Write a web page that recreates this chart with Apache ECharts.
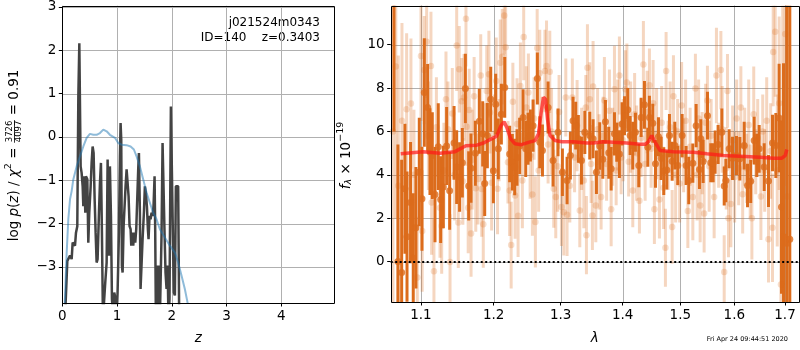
<!DOCTYPE html>
<html>
<head>
<meta charset="utf-8">
<script src="https://cdn.jsdelivr.net/npm/echarts@6.0.0/dist/echarts.min.js"></script>
<style>
  html, body { margin: 0; padding: 0; background: #fff; }
  #chart { width: 800px; height: 350px; }
</style>
</head>
<body>
<div id="chart"></div>
<script>
// ---- left panel: log p(z) and prior ----
const pzZ = [0.049,0.092,0.110,0.141,0.171,0.189,0.214,0.232,0.250,0.274,
  0.293,0.311,0.323,0.335,0.353,0.372,0.384,0.402,0.420,0.432,
  0.457,0.475,0.493,0.518,0.536,0.554,0.572,0.591,0.609,0.627,
  0.645,0.670,0.688,0.706,0.724,0.743,0.761,0.785,0.810,0.828,
  0.852,0.870,0.889,0.907,0.931,0.949,0.974,0.992,1.010,1.035,
  1.053,1.065,1.077,1.089,1.102,1.120,1.138,1.156,1.175,1.193,
  1.211,1.229,1.248,1.260,1.278,1.296,1.314,1.333,1.351,1.369,
  1.387,1.400,1.418,1.430,1.448,1.467,1.491,1.509,1.527,1.546,
  1.564,1.576,1.594,1.613,1.631,1.649,1.667,1.686,1.698,1.710,
  1.728,1.746,1.765,1.783,1.813,1.832,1.850,1.868,1.886,1.905,
  1.923,1.941,1.959,1.984,2.002,2.020,2.038,2.057,2.075,2.099,
  2.117,2.136];
const pzLog = [-4.2,-2.86,-2.90,-2.74,-2.82,-2.44,-2.40,-2.51,-2.21,-2.06,
  0.93,2.16,2.12,-0.68,-0.83,-1.14,-1.60,-0.91,-1.75,-0.91,
  -0.98,-2.44,-1.75,-1.14,-0.60,-0.22,-0.37,-1.44,-2.21,-2.90,
  -2.82,-1.75,-1.06,-0.60,-2.21,-4.2,-4.2,-3.36,-2.90,-0.52,
  -2.74,-0.68,-1.82,-3.74,-4.2,-3.59,-3.74,-4.2,-3.59,-2.21,
  -0.45,0.32,-0.06,-2.97,-3.13,-2.06,-1.60,-1.14,-0.75,-1.06,
  -1.37,-2.06,-2.13,-2.51,-2.21,-2.51,-2.21,-2.44,-2.13,-1.44,
  -0.75,-0.37,-1.75,-3.51,-3.51,-2.36,-1.75,-1.14,-1.29,-1.60,
  -2.13,-2.36,-1.82,-1.90,-1.75,-1.82,-1.60,-0.91,-2.21,-4.2,
  -2.97,-4.2,-2.97,-4.2,-2.28,-0.14,-0.14,-2.21,-3.13,-3.51,
  -2.97,-4.2,-3.74,0.70,0.70,-2.21,-3.59,-3.66,-1.14,-1.17,
  -1.14,-4.2];
const priorZ = [0.040,0.080,0.110,0.141,0.171,0.201,0.262,0.323,0.384,0.445,
  0.505,0.566,0.627,0.688,0.749,0.785,0.810,0.870,0.962,1.022,
  1.083,1.175,1.248,1.308,1.357,1.418,1.479,1.540,1.600,1.661,
  1.722,1.783,1.874,1.965,2.057,2.117,2.178,2.239,2.288,2.330];
const priorLog = [-4.0,-2.67,-1.90,-1.44,-1.25,-0.98,-0.68,-0.45,-0.22,-0.02,
  0.07,0.05,0.05,0.09,0.17,0.21,0.13,0.05,-0.02,-0.14,
  -0.18,-0.19,-0.22,-0.29,-0.45,-0.68,-0.98,-1.29,-1.52,-1.75,
  -1.90,-2.13,-2.32,-2.51,-2.67,-2.90,-3.20,-3.51,-3.82,-4.2];
const zTicks = [0, 1, 2, 3, 4];
const logTicks = [-3, -2, -1, 0, 1, 2, 3];
const zMin = 0, zMax = 4.97, logMin = -3.834, logMax = 3.028;

// ---- right panel: spectrum ----
const darkLam = [1.0651,1.0701,1.0749,1.0791,1.0818,1.0864,1.0899,1.0934,1.0978,1.1013,
  1.1044,1.1088,1.1119,1.1150,1.1186,1.1230,1.1262,1.1298,1.1343,1.1384,
  1.1444,1.1480,1.1520,1.1558,1.1600,1.1646,1.1678,1.1739,1.1795,1.1843,
  1.1871,1.1909,1.1957,1.1995,1.2028,1.2066,1.2110,1.2159,1.2231,1.2270,
  1.2305,1.2339,1.2378,1.2429,1.2468,1.2503,1.2538,1.2578,1.2643,1.2679,
  1.2720,1.2806,1.2882,1.2959,1.3027,1.3100,1.3152,1.3194,1.3236,1.3278,
  1.3327,1.3381,1.3460,1.3514,1.3568,1.3622,1.3672,1.3715,1.3770,1.3809,
  1.3864,1.3902,1.3946,1.3991,1.4031,1.4086,1.4126,1.4171,1.4216,1.4273,
  1.4313,1.4370,1.4428,1.4456,1.4514,1.4561,1.4613,1.4660,1.4706,1.4759,
  1.4806,1.4854,1.4901,1.4954,1.5032,1.5104,1.5152,1.5226,1.5286,1.5347,
  1.5372,1.5415,1.5495,1.5556,1.5600,1.5637,1.5693,1.5763,1.5808,1.5839,
  1.5902,1.5966,1.6042,1.6106,1.6190,1.6255,1.6317,1.6385,1.6434,1.6483,
  1.6582,1.6668,1.6748,1.6815,1.6881,1.6929,1.6970,1.7037,1.7098];
const darkFlux = [12.0,0.0,-0.5,3.36,1.15,2.72,0.15,1.56,4.13,2.9,
  7.8,7.11,5.07,4.89,3.09,5.30,2.86,3.44,5.33,3.27,
  5.47,4.36,3.9,4.56,7.98,3.49,4.31,5.0,6.47,5.89,
  3.60,5.81,7.49,4.19,7.26,5.20,6.80,8.03,4.96,4.58,
  4.36,4.80,5.33,6.65,5.20,5.66,5.81,6.27,8.44,5.50,
  5.12,7.11,4.66,5.96,4.12,3.74,4.89,6.50,6.27,5.66,
  4.66,5.96,5.81,5.66,4.12,5.33,4.72,6.45,5.02,4.28,
  5.89,5.50,4.96,6.35,6.73,7.00,5.81,5.35,5.96,4.43,
  6.65,7.23,5.27,6.65,6.38,4.51,5.76,4.76,4.17,4.22,
  5.81,4.63,5.35,4.43,5.81,4.43,3.74,4.54,6.27,4.25,
  5.66,4.62,6.73,4.56,4.56,5.05,5.40,5.96,3.49,3.74,
  5.20,4.76,4.89,4.74,5.35,3.51,3.70,5.58,4.90,5.20,
  4.36,3.72,5.47,5.35,6.62,2.52,1.15,0.84,1.03];
const darkErr = [6.0,5.4,5.2,3.0,3.0,2.8,3.0,2.8,2.5,2.4,
  2.5,2.0,2.0,2.0,2.2,2.0,2.0,1.9,1.8,1.8,
  1.7,1.7,1.6,1.6,1.6,1.6,1.6,1.5,1.5,1.5,
  1.5,1.5,1.5,1.5,1.4,1.4,1.4,1.4,1.3,1.3,
  1.3,1.3,1.3,1.3,1.3,1.2,1.2,1.2,1.2,1.2,
  1.2,1.2,1.2,1.1,1.1,1.1,1.1,1.1,1.1,1.1,
  1.1,1.0,1.1,0.9,1.0,1.1,0.9,1.0,1.2,1.0,
  1.0,0.9,1.1,1.0,0.9,1.0,0.9,1.1,0.9,1.0,
  0.9,1.1,0.9,1.0,0.9,1.1,0.9,1.0,1.1,0.9,
  1.0,0.9,1.1,0.9,1.0,0.9,1.1,0.9,1.0,0.9,
  0.9,1.0,1.1,0.9,0.9,1.0,0.9,1.1,0.9,1.0,
  0.9,1.0,0.9,1.0,1.1,1.0,1.0,1.1,1.0,1.1,
  1.1,1.2,1.3,1.5,2.5,4.0,8.0,15,15];

const lightLam = [1.0638,1.0674,1.0706,1.0753,1.0813,1.0869,1.0908,1.0952,1.1000,1.1016,
  1.1043,1.1075,1.1098,1.1132,1.1141,1.1172,1.1205,1.1253,1.1276,1.1306,
  1.1334,1.1361,1.1389,1.1420,1.1451,1.1480,1.1502,1.1515,1.1549,1.1565,
  1.1581,1.1608,1.1617,1.1639,1.1653,1.1679,1.1694,1.1722,1.1745,1.1776,
  1.1815,1.1829,1.1851,1.1874,1.1900,1.1931,1.1947,1.1970,1.2010,1.2036,
  1.2055,1.2077,1.2094,1.2123,1.2152,1.2172,1.2206,1.2230,1.2253,1.2278,
  1.2310,1.2339,1.2355,1.2389,1.2418,1.2438,1.2478,1.2508,1.2533,1.2568,
  1.2593,1.2613,1.2640,1.2662,1.2679,1.2717,1.2758,1.2782,1.2806,1.2832,
  1.2859,1.2893,1.2924,1.2952,1.2975,1.3012,1.3049,1.3080,1.3100,1.3143,
  1.3183,1.3218,1.3258,1.3301,1.3330,1.3365,1.3397,1.3407,1.3423,1.3461,
  1.3482,1.3503,1.3514,1.3558,1.3587,1.3612,1.3644,1.3677,1.3698,1.3734,
  1.3781,1.3809,1.3834,1.3864,1.3892,1.3917,1.3946,1.3975,1.4008,1.4047,
  1.4071,1.4101,1.4135,1.4171,1.4202,1.4236,1.4284,1.4313,1.4352,1.4382,
  1.4416,1.4456,1.4485,1.4520,1.4542,1.4580,1.4630,1.4669,1.4703,1.4735,
  1.4747,1.4783,1.4818,1.4854,1.4877,1.4916,1.4952,1.4988,1.5023,1.5059,
  1.5095,1.5135,1.5177,1.5226,1.5273,1.5304,1.5332,1.5360,1.5397,1.5433,
  1.5461,1.5494,1.5526,1.5563,1.5619,1.5662,1.5703,1.5745,1.5770,1.5808,
  1.5846,1.5870,1.5889,1.5934,1.5968,1.6006,1.6045,1.6084,1.6126,1.6161,
  1.6200,1.6239,1.6278,1.6307,1.6340,1.6376,1.6415,1.6454,1.6517,1.6553,
  1.6592,1.6632,1.6668,1.6711,1.6748,1.6762,1.6802,1.6843,1.6882,1.6917,
  1.6954,1.7004,1.7045];
const lightFlux = [6.0,9.0,3.5,6.5,7.03,7.29,4.0,-0.73,9.48,1.41,
  8.83,10.14,5.8,9.02,2.72,-0.45,6.2,2.48,1.64,4.2,
  7.49,6.1,-0.02,6.83,4.0,9.97,1.80,8.87,7.39,3.7,
  7.57,11.2,6.22,2.48,6.99,1.3,4.7,7.63,3.38,3.81,
  8.58,3.35,1.72,5.5,7.87,8.64,6.88,3.63,5.9,8.33,
  3.36,5.6,9.17,9.45,11.35,9.89,4.58,3.28,0.76,7.37,
  3.05,6.35,2.11,8.1,3.74,10.36,7.11,7.8,4.9,3.09,
  6.6,1.83,9.85,4.2,8.69,5.9,8.79,9.02,5.4,8.75,
  6.0,3.36,2.98,4.4,6.9,2.52,2.28,7.57,2.16,3.5,
  7.57,4.8,6.27,2.36,5.2,3.74,7.11,1.22,8.94,7.49,
  4.5,2.13,8.07,2.59,6.1,4.6,2.98,5.8,7.43,4.5,
  6.96,2.41,5.3,7.95,4.2,6.3,8.58,4.8,5.6,7.95,
  8.26,4.6,6.2,3.28,6.8,5.0,2.8,5.7,9.09,4.5,
  6.9,8.13,5.2,7.3,2.41,5.9,2.86,6.4,3.4,0.64,
  8.79,4.9,6.2,1.6,7.62,4.0,6.0,3.6,7.2,4.9,
  6.5,2.33,5.3,2.98,7.98,4.0,6.6,2.59,5.0,2.22,
  6.4,7.43,4.4,5.8,2.98,8.58,4.9,8.83,6.1,-0.48,
  4.3,7.87,2.0,2.66,5.6,3.9,6.6,4.3,7.11,3.1,
  5.3,4.3,6.3,3.7,2.0,6.8,4.6,5.7,3.0,6.0,
  4.2,6.5,1.03,5.1,1.56,9.66,10.6,4.2,7.3,-1.06,
  12.5,10.5,3.0];
const lightErr = [9,7,6,4.5,3.5,3,3,2.8,3,2.8,
  2.5,2.6,2.5,2.5,2.4,2.4,2.3,2.3,2.2,2.2,
  2.2,2.2,2.2,2.1,2.1,2.1,2.1,2.0,2.0,2.0,
  2.0,2.2,1.8,2.1,1.9,2.0,2.3,1.8,2.0,2.1,
  1.9,2.2,2.0,1.8,2.1,2.0,1.9,2.2,1.8,2.0,
  2.1,1.9,2.0,2.2,1.8,2.0,1.9,2.1,2.0,1.8,
  2.0,2.1,1.9,2.0,2.2,2.0,1.9,1.8,2.0,1.9,
  1.9,2.1,1.8,1.9,2.0,1.7,1.9,2.1,1.8,1.9,
  2.0,1.8,1.9,2.1,1.7,1.8,2.0,1.8,1.9,1.7,
  1.8,1.6,2.1,1.7,1.9,2.2,1.5,1.8,2.0,1.7,
  1.8,1.6,2.1,1.7,1.9,2.2,1.5,1.8,2.0,1.7,
  1.9,1.7,1.8,2.0,1.6,2.1,1.8,1.7,1.9,1.8,
  1.8,1.6,2.1,1.7,1.9,2.2,1.5,1.8,2.0,1.7,
  1.9,1.7,1.8,2.0,1.6,2.1,1.8,1.7,1.9,1.8,
  1.8,1.6,2.1,1.7,1.9,2.2,1.5,1.8,2.0,1.7,
  1.9,1.7,1.8,2.0,1.6,2.1,1.8,1.7,1.9,1.8,
  1.8,1.6,2.1,1.7,1.9,2.2,1.5,1.8,2.0,1.7,
  1.9,1.7,1.8,2.0,1.6,2.1,1.8,1.7,1.9,1.8,
  1.8,1.6,2.1,1.7,1.9,2.2,1.5,1.8,2.0,1.7,
  1.9,2.0,2.0,2.2,2.5,2.5,3,3.5,4,5,
  6,7,9];

const modelLam = [1.0737,1.103,1.1253,1.1457,1.1607,1.1758,1.1853,1.1967,1.2041,1.2105,
  1.2149,1.2189,1.2246,1.2310,1.2408,1.2508,1.2609,1.2660,1.2700,1.2735,
  1.2766,1.2797,1.2836,1.2913,1.3017,1.3199,1.3411,1.3519,1.3683,1.3846,
  1.4071,1.4296,1.4382,1.4439,1.4497,1.4556,1.4642,1.4877,1.5237,1.5484,
  1.5794,1.6113,1.6503,1.6768,1.6936,1.7004,1.7037];
const modelFlux = [4.97,5.07,5.0,5.07,5.34,5.37,5.47,5.66,5.78,6.27,
  6.45,6.19,5.66,5.43,5.39,5.5,5.58,5.89,6.88,7.57,
  7.49,6.57,5.81,5.58,5.53,5.53,5.47,5.47,5.53,5.50,
  5.47,5.41,5.41,5.53,5.81,5.50,5.12,5.07,5.04,4.97,
  4.89,4.86,4.81,4.77,4.77,4.89,5.17];
const lamTicks = [1.1, 1.2, 1.3, 1.4, 1.5, 1.6, 1.7];
const fluxTicks = [0, 2, 4, 6, 8, 10];
const lamMin = 1.0609, lamMax = 1.7287;
const fluxMin = -1.864, fluxMax = 11.81;

const FONT = 'DejaVu Sans';
const DARK = 'rgb(220,108,28)';
const LIGHT = 'rgba(220,108,28,0.28)';

const minus = v => (v < 0 ? '\u2212' + Math.abs(v) : String(v));

// the wavelength axis is logarithmic: plot ln(lambda) on a value axis
const ln = Math.log;
const lightData = lightLam.map((l, i) => [ln(l), lightFlux[i], lightErr[i]]);
const darkData = darkLam.map((l, i) => [ln(l), darkFlux[i], darkErr[i]]);

const zRange = [zMin, zMax], logRange = [logMin, logMax];
const lnLamRange = [ln(lamMin), ln(lamMax)], fluxRange = [fluxMin, fluxMax];

function errorBars(color, width) {
  return function (params, api) {
    const x = api.value(0), y = api.value(1), e = api.value(2);
    const lo = Math.max(y - e, fluxMin), hi = Math.min(y + e, fluxMax);
    if (hi <= lo) return null;
    const p1 = api.coord([x, lo]), p2 = api.coord([x, hi]);
    return {
      type: 'line',
      shape: { x1: p1[0], y1: p1[1], x2: p2[0], y2: p2[1] },
      style: { stroke: color, lineWidth: width }
    };
  };
}

// grid lines at the tick values, from one end of the other axis to the other
function gridRender(vertical, xr, yr) {
  return function (params, api) {
    const v = api.value(vertical ? 0 : 1);
    const a = vertical ? api.coord([v, yr[0]]) : api.coord([xr[0], v]);
    const b = vertical ? api.coord([v, yr[1]]) : api.coord([xr[1], v]);
    const shape = vertical
      ? { x1: Math.round(a[0]) + 0.5, y1: a[1], x2: Math.round(a[0]) + 0.5, y2: b[1] }
      : { x1: a[0], y1: Math.round(a[1]) + 0.5, x2: b[0], y2: Math.round(a[1]) + 0.5 };
    return { type: 'line', shape: shape, style: { stroke: '#b0b0b0', lineWidth: 1 } };
  };
}
function gridSeries(idx, data, vertical, xr, yr) {
  return {
    type: 'custom', xAxisIndex: idx, yAxisIndex: idx, z: 1, silent: true,
    renderItem: gridRender(vertical, xr, yr), encode: { x: 0, y: 1 }, data: data
  };
}
// the box round each plot, drawn over the data like matplotlib's spines
function frameSeries(idx, xr, yr) {
  return {
    type: 'custom', xAxisIndex: idx, yAxisIndex: idx, z: 10, silent: true,
    encode: { x: 0, y: 1 }, data: [[xr[0], yr[0]]],
    renderItem: function (params, api) {
      const a = api.coord([xr[0], yr[1]]), b = api.coord([xr[1], yr[0]]);
      return {
        type: 'rect',
        shape: { x: Math.round(a[0]) + 0.5, y: Math.round(a[1]) + 0.5,
                 width: Math.round(b[0] - a[0]), height: Math.round(b[1] - a[1]) },
        style: { fill: 'none', stroke: '#000', lineWidth: 1 }
      };
    }
  };
}

// rotated axis titles built from text pieces
const measure = document.createElement('canvas').getContext('2d');
function textWidth(t, size, italic) {
  measure.font = (italic ? 'italic ' : '') + size + 'px "' + FONT + '"';
  return measure.measureText(t).width;
}
function txt(t, x, y, size, italic, align) {
  return {
    type: 'text', x: x, y: y,
    style: {
      text: t, fontSize: size, fontFamily: FONT, fontStyle: italic ? 'italic' : 'normal',
      fill: '#000', align: align, textAlign: align,
      verticalAlign: 'middle', textVerticalAlign: 'middle'
    }
  };
}
function rotatedLabel(cx, cy, pieces) {
  let total = 0;
  pieces.forEach(p => {
    p.w = p.frac
      ? Math.max(textWidth(p.frac[0], p.size), textWidth(p.frac[1], p.size)) + 2
      : textWidth(p.t, p.size, p.italic);
    total += p.w;
  });
  let x = -total / 2;
  const children = [];
  pieces.forEach(p => {
    if (p.frac) {
      children.push(txt(p.frac[0], x + p.w / 2, -4.5, p.size, false, 'center'));
      children.push(txt(p.frac[1], x + p.w / 2, 5, p.size, false, 'center'));
      children.push({
        type: 'line',
        shape: { x1: x + 0.5, y1: 0.5, x2: x + p.w - 0.5, y2: 0.5 },
        style: { stroke: '#000', lineWidth: 0.8 }
      });
    } else {
      children.push(txt(p.t, x, p.dy || 0, p.size, p.italic, 'left'));
    }
    x += p.w;
  });
  return { type: 'group', x: cx, y: cy, rotation: Math.PI / 2, children: children };
}

const S = 13.5;
const leftLabel = rotatedLabel(14, 155.5, [
  { t: 'log ', size: S }, { t: 'p', size: S, italic: true }, { t: '(', size: S },
  { t: 'z', size: S, italic: true }, { t: ') / ', size: S }, { t: '\u03c7', size: S, italic: true },
  { t: '2', size: 9.5, dy: -5 }, { t: ' = ', size: S }, { frac: ['3726', '4097'], size: 8.5 },
  { t: ' = 0.91', size: S }
]);
const rightLabel = rotatedLabel(346, 155.5, [
  { t: 'f', size: S, italic: true }, { t: '\u03bb', size: 9.5, italic: true, dy: 3 },
  { t: ' \u00d7 10', size: S }, { t: '\u221219', size: 9.5, dy: -5 }
]);

const tickStyle = { show: true, inside: false, length: 3.5, lineStyle: { color: '#000', width: 1 } };
const labelBase = { color: '#000', fontFamily: FONT, fontSize: S, margin: 6 };
const noLine = { show: false, onZero: false };

const option = {
  animation: false,
  backgroundColor: '#fff',
  grid: [
    { left: 62.3, top: 5.5, width: 272, height: 298.5, show: false },
    { left: 390.7, top: 5.5, width: 408.3, height: 298.5, show: false }
  ],
  xAxis: [
    {
      type: 'value', gridIndex: 0, min: zMin, max: zMax, position: 'bottom',
      axisLine: noLine,
      axisTick: Object.assign({ customValues: zTicks }, tickStyle),
      axisLabel: Object.assign({ customValues: zTicks, formatter: minus }, labelBase),
      splitLine: { show: false },
      name: 'z', nameLocation: 'middle', nameGap: 28,
      nameTextStyle: { color: '#000', fontFamily: FONT, fontSize: S, fontStyle: 'italic' }
    },
    {
      type: 'value', gridIndex: 1, min: lnLamRange[0], max: lnLamRange[1], position: 'bottom',
      axisLine: noLine,
      axisTick: Object.assign({ customValues: lamTicks.map(ln) }, tickStyle),
      axisLabel: Object.assign({ customValues: lamTicks.map(ln), formatter: v => Math.exp(v).toFixed(1) }, labelBase),
      splitLine: { show: false },
      name: '\u03bb', nameLocation: 'middle', nameGap: 29,
      nameTextStyle: { color: '#000', fontFamily: FONT, fontSize: S, fontStyle: 'italic' }
    }
  ],
  yAxis: [
    {
      type: 'value', gridIndex: 0, min: logMin, max: logMax, position: 'left',
      axisLine: noLine,
      axisTick: Object.assign({ customValues: logTicks }, tickStyle),
      axisLabel: Object.assign({ customValues: logTicks, formatter: minus }, labelBase),
      splitLine: { show: false }
    },
    {
      type: 'value', gridIndex: 1, min: fluxMin, max: fluxMax, position: 'left',
      axisLine: noLine,
      axisTick: Object.assign({ customValues: fluxTicks }, tickStyle),
      axisLabel: Object.assign({ customValues: fluxTicks, formatter: minus }, labelBase),
      splitLine: { show: false }
    }
  ],
  graphic: [
    leftLabel,
    rightLabel,
    txt('j021524m0343', 320, 23, 12, false, 'right'),
    txt('ID=140    z=0.3403', 320, 37.5, 12, false, 'right'),
    txt('Fri Apr 24 09:44:51 2020', 788, 339, 6.5, false, 'right')
  ],
  series: [
    gridSeries(0, zTicks.map(v => [v, 0]), true, zRange, logRange),
    gridSeries(0, logTicks.map(v => [1, v]), false, zRange, logRange),
    gridSeries(1, lamTicks.map(v => [ln(v), 0]), true, lnLamRange, fluxRange),
    gridSeries(1, fluxTicks.map(v => [ln(1.3), v]), false, lnLamRange, fluxRange),
    {
      type: 'line', xAxisIndex: 0, yAxisIndex: 0, showSymbol: false, clip: true,
      data: pzZ.map((z, i) => [z, pzLog[i]]),
      lineStyle: { color: '#434343', width: 2.5 }
    },
    {
      type: 'line', xAxisIndex: 0, yAxisIndex: 0, showSymbol: false, clip: true,
      data: priorZ.map((z, i) => [z, priorLog[i]]),
      lineStyle: { color: 'rgba(31,119,180,0.5)', width: 2 }
    },
    {
      type: 'custom', xAxisIndex: 1, yAxisIndex: 1, clip: true,
      renderItem: errorBars(LIGHT, 3), encode: { x: 0, y: 1 },
      data: lightData
    },
    {
      type: 'scatter', xAxisIndex: 1, yAxisIndex: 1, symbolSize: 6.5,
      itemStyle: { color: LIGHT }, encode: { x: 0, y: 1 },
      data: lightData,
      markLine: {
        silent: true, symbol: ['none', 'none'], label: { show: false },
        lineStyle: { color: '#000', width: 2, type: [2, 2.5] },
        data: [{ yAxis: 0 }]
      }
    },
    {
      type: 'custom', xAxisIndex: 1, yAxisIndex: 1, clip: true,
      renderItem: errorBars(DARK, 3), encode: { x: 0, y: 1 },
      data: darkData
    },
    {
      type: 'scatter', xAxisIndex: 1, yAxisIndex: 1, symbolSize: 7,
      itemStyle: { color: DARK }, encode: { x: 0, y: 1 },
      data: darkData
    },
    {
      type: 'line', xAxisIndex: 1, yAxisIndex: 1, showSymbol: false, clip: true,
      data: modelLam.map((l, i) => [ln(l), modelFlux[i]]),
      lineStyle: { color: 'rgba(255,25,25,0.72)', width: 3.5 }
    },
    frameSeries(0, zRange, logRange),
    frameSeries(1, lnLamRange, fluxRange)
  ]
};

const chart = echarts.init(document.getElementById('chart'));
chart.setOption(option);
</script>
</body>
</html>
